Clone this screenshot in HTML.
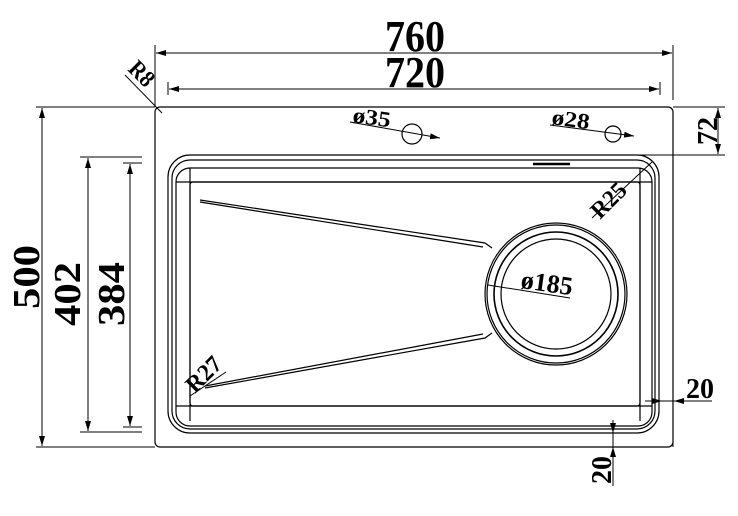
<!DOCTYPE html>
<html><head><style>body{margin:0;background:#fff}svg{display:block}</style></head><body>
<svg width="738" height="516" viewBox="0 0 738 516" xmlns="http://www.w3.org/2000/svg" font-family="Liberation Serif, serif" font-weight="bold">
<defs><marker id="a" markerWidth="10" markerHeight="6" refX="10" refY="3" orient="auto-start-reverse" markerUnits="userSpaceOnUse"><path d="M0,0 L10,3 L0,6z" fill="#000"/></marker></defs>
<g stroke="#000" fill="none" stroke-width="1.2">
<rect x="155" y="107" width="518" height="340" rx="5"/>
<rect x="168" y="155" width="491" height="278" rx="22"/>
<rect x="172" y="160" width="483" height="269" rx="18"/>
<rect x="176" y="168" width="476" height="258" rx="14"/>
<rect x="190" y="182" width="450" height="224" rx="3"/>
<line x1="176" y1="182" x2="652" y2="182"/>
<line x1="190" y1="168" x2="190" y2="421"/>
<line x1="640" y1="168" x2="640" y2="421"/>
<line x1="176" y1="406" x2="652" y2="406"/>
<line x1="533" y1="164" x2="570" y2="164" stroke-width="2.5"/>
<path d="M200,200 L485,243 L492,248"/><path d="M200,202 L483,247"/>
<path d="M205,388 L485,338 L492,333"/><path d="M205,386 L483,334"/>
<circle cx="556" cy="294" r="71"/>
<circle cx="556" cy="294" r="69"/>
<circle cx="556" cy="294" r="62" stroke-width="1.6"/>
<circle cx="556" cy="294" r="55"/>
<circle cx="412" cy="134" r="10"/>
<circle cx="613" cy="134" r="8"/>
<line x1="350" y1="122" x2="440" y2="138" marker-end="url(#a)" stroke-width="1"/>
<line x1="550" y1="125" x2="634" y2="136" marker-end="url(#a)" stroke-width="1"/>
<line x1="155" y1="45" x2="155" y2="107" stroke-width="1"/>
<line x1="673" y1="45" x2="673" y2="100" stroke-width="1"/>
<line x1="168" y1="82" x2="168" y2="95" stroke-width="1"/>
<line x1="660" y1="82" x2="660" y2="95" stroke-width="1"/>
<line x1="156" y1="53" x2="672" y2="53" marker-start="url(#a)" marker-end="url(#a)" stroke-width="1"/>
<line x1="169" y1="89" x2="659" y2="89" marker-start="url(#a)" marker-end="url(#a)" stroke-width="1"/>
<line x1="36" y1="107" x2="155" y2="107" stroke-width="1"/>
<line x1="36" y1="447" x2="155" y2="447" stroke-width="1"/>
<line x1="42" y1="108" x2="42" y2="446" marker-start="url(#a)" marker-end="url(#a)" stroke-width="1"/>
<line x1="80" y1="157" x2="142" y2="157" stroke-width="1"/>
<line x1="80" y1="432" x2="142" y2="432" stroke-width="1"/>
<line x1="88" y1="158" x2="88" y2="431" marker-start="url(#a)" marker-end="url(#a)" stroke-width="1"/>
<line x1="123" y1="163" x2="142" y2="163" stroke-width="1"/>
<line x1="123" y1="427" x2="142" y2="427" stroke-width="1"/>
<line x1="130" y1="164" x2="130" y2="426" marker-start="url(#a)" marker-end="url(#a)" stroke-width="1"/>
<line x1="673" y1="107" x2="725" y2="107" stroke-width="1"/>
<line x1="640" y1="155" x2="725" y2="155" stroke-width="1"/>
<line x1="718" y1="108" x2="718" y2="154" marker-start="url(#a)" marker-end="url(#a)" stroke-width="1"/>
<line x1="673" y1="155" x2="673" y2="447" stroke-width="1"/>
<line x1="645" y1="401" x2="712" y2="401" stroke-width="1"/>
<line x1="652" y1="401" x2="662" y2="401" marker-end="url(#a)" stroke-width="1"/>
<line x1="684" y1="401" x2="674" y2="401" marker-end="url(#a)" stroke-width="1"/>
<line x1="613" y1="420" x2="613" y2="486" stroke-width="1"/>
<line x1="613" y1="420" x2="613" y2="433" marker-end="url(#a)" stroke-width="1"/>
<line x1="613" y1="455" x2="613" y2="447" marker-end="url(#a)" stroke-width="1"/>
<line x1="125" y1="75" x2="162" y2="113" stroke-width="1"/>
<line x1="488" y1="285" x2="570" y2="298" stroke-width="1"/>
<line x1="592" y1="218" x2="652" y2="162" stroke-width="1"/>
<line x1="190" y1="396" x2="226" y2="372" stroke-width="1"/>
</g>
<g fill="#000">
<text font-size="44" text-anchor="middle" x="415" y="51" textLength="60" lengthAdjust="spacingAndGlyphs">760</text>
<text font-size="44" text-anchor="middle" x="415" y="87" textLength="60" lengthAdjust="spacingAndGlyphs">720</text>
<text font-size="38" transform="translate(39,277) rotate(-90)" text-anchor="middle" textLength="64" lengthAdjust="spacingAndGlyphs">500</text>
<text font-size="38" transform="translate(80,294) rotate(-90)" text-anchor="middle" textLength="64" lengthAdjust="spacingAndGlyphs">402</text>
<text font-size="38" transform="translate(124,294) rotate(-90)" text-anchor="middle" textLength="64" lengthAdjust="spacingAndGlyphs">384</text>
<text font-size="28" transform="translate(717,131) rotate(-90)" text-anchor="middle" textLength="28" lengthAdjust="spacingAndGlyphs">72</text>
<text font-size="28" transform="translate(611,470) rotate(-90)" text-anchor="middle" textLength="28" lengthAdjust="spacingAndGlyphs">20</text>
<text font-size="28" x="686" y="398" textLength="28" lengthAdjust="spacingAndGlyphs">20</text>
<text font-size="24" transform="translate(127,70) rotate(45)" textLength="26" lengthAdjust="spacingAndGlyphs">R8</text>
<text font-size="24" transform="translate(600,220) rotate(-45)" textLength="40" lengthAdjust="spacingAndGlyphs">R25</text>
<text font-size="24" transform="translate(195,394) rotate(-45)" textLength="40" lengthAdjust="spacingAndGlyphs">R27</text>
<text font-size="22" transform="translate(352,122) rotate(8)" textLength="38" lengthAdjust="spacingAndGlyphs">ø35</text>
<text font-size="22" transform="translate(551,124) rotate(8)" textLength="38" lengthAdjust="spacingAndGlyphs">ø28</text>
<text font-size="26" transform="translate(520,288) rotate(8)" textLength="52" lengthAdjust="spacingAndGlyphs">ø185</text>
</g>
</svg>
</body></html>
